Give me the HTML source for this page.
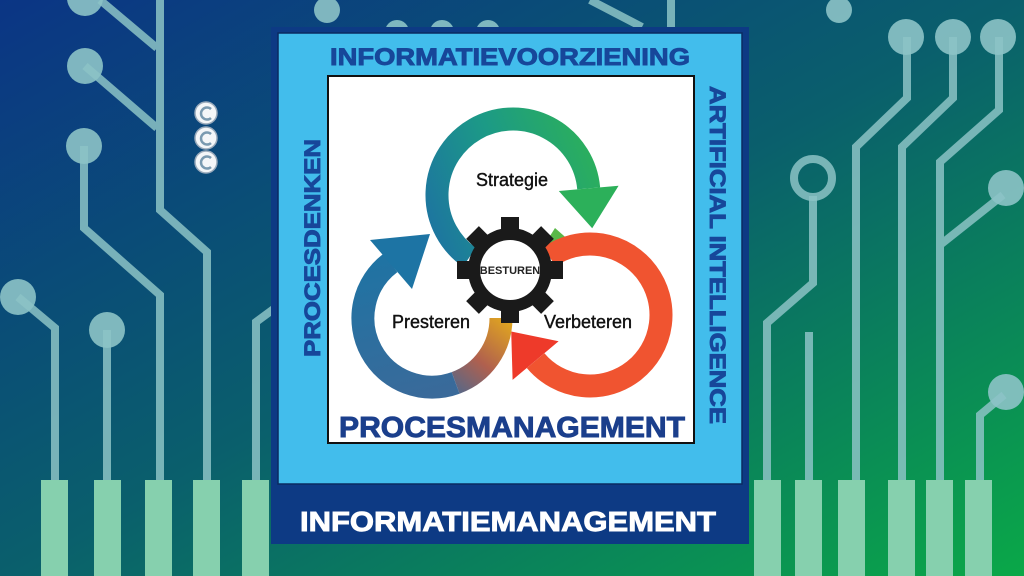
<!DOCTYPE html>
<html><head><meta charset="utf-8"><style>
html,body{margin:0;padding:0;}
body{width:1024px;height:576px;overflow:hidden;position:relative;font-family:"Liberation Sans",sans-serif;
background:linear-gradient(to bottom right,#0b3585 0%,#0a5f6c 50%,#0aa848 100%);}
svg{position:absolute;left:0;top:0;}
</style></head><body>
<svg width="1024" height="576" viewBox="0 0 1024 576">
<defs>
<linearGradient id="gG" gradientUnits="userSpaceOnUse" x1="430" y1="250" x2="610" y2="180">
<stop offset="0" stop-color="#1d72a2"/><stop offset="0.5" stop-color="#1c9a86"/><stop offset="1" stop-color="#2cb05a"/></linearGradient>
<linearGradient id="gB" gradientUnits="userSpaceOnUse" x1="505" y1="315" x2="440" y2="395">
<stop offset="0" stop-color="#e2a81e"/><stop offset="0.5" stop-color="#b0604e"/><stop offset="1" stop-color="#3a6a9a"/></linearGradient>
<linearGradient id="gB2" gradientUnits="userSpaceOnUse" x1="440" y1="395" x2="400" y2="240">
<stop offset="0" stop-color="#3a6a9a"/><stop offset="1" stop-color="#1d74a4"/></linearGradient>
</defs>
<g stroke="#8cc3c6" stroke-opacity="0.85" stroke-width="8" fill="none">
<path d="M100 0 L157 48 M160 0 L160 210 L207 252 L207 490 M85 66 L157 128"/>
<path d="M84 146 L84 228 L160 295 L160 490"/>
<path d="M18 297 L55 328 L55 490"/>
<path d="M107 330 L107 490"/>
<path d="M275 308 L256 322 L256 490"/>
<path d="M590 0 L642 27 M671 0 L671 27"/>
<path d="M907 37 L907 98 L856 147 L856 490"/>
<path d="M953 37 L953 98 L902 147 L902 490"/>
<path d="M999 37 L999 110 L940 162 L940 490 M940 245 L1003 195"/>
<path d="M813 196 L813 283 L767 323 L767 490"/>
<path d="M809 332 L809 490"/>
<path d="M1004 395 L980 415 L980 490"/>
<circle cx="813" cy="178" r="19"/>
</g>
<g fill="#8cc3c6" fill-opacity="0.9">
<circle cx="85" cy="-2" r="18"/><circle cx="85" cy="66" r="18"/><circle cx="84" cy="146" r="18"/>
<circle cx="18" cy="297" r="18"/><circle cx="107" cy="330" r="18"/>
<circle cx="327" cy="10" r="13"/><circle cx="397" cy="32" r="12"/><circle cx="442" cy="32" r="12"/><circle cx="488" cy="32" r="12"/>
<circle cx="839" cy="10" r="13"/><circle cx="906" cy="37" r="18"/><circle cx="953" cy="37" r="18"/><circle cx="998" cy="37" r="18"/>
<circle cx="1006" cy="188" r="18"/><circle cx="1006" cy="392" r="18"/>
</g>
<g fill="#86d0ae">
<rect x="41" y="480" width="27" height="96"/><rect x="94" y="480" width="27" height="96"/><rect x="145" y="480" width="27" height="96"/>
<rect x="193" y="480" width="27" height="96"/><rect x="242" y="480" width="27" height="96"/>
<rect x="754" y="480" width="27" height="96"/><rect x="795" y="480" width="27" height="96"/><rect x="838" y="480" width="27" height="96"/>
<rect x="888" y="480" width="27" height="96"/><rect x="926" y="480" width="27" height="96"/><rect x="965" y="480" width="27" height="96"/>
</g>
<g fill="#f4f6f8" stroke="#9ab" stroke-width="1.5">
<circle cx="206" cy="113" r="11"/><circle cx="206" cy="138" r="11"/><circle cx="206" cy="162" r="11"/>
</g>
<g fill="none" stroke="#7a9ab0" stroke-width="2.5">
<path d="M211 109 A6 6 0 1 0 211 118"/><path d="M211 134 A6 6 0 1 0 211 143"/><path d="M211 158 A6 6 0 1 0 211 167"/>
</g>
<rect x="271" y="27" width="478" height="517" fill="#0d3a84"/>
<rect x="278" y="33" width="464" height="451" fill="#42bdec" stroke="#0b2a60" stroke-width="1.5"/>
<rect x="328" y="76" width="366" height="367" fill="#fff" stroke="#111" stroke-width="2"/>
<path d="M469.4 257.3 A76 76 0 1 1 588.7 188.4" fill="none" stroke="url(#gG)" stroke-width="23"/>
<polygon points="618.6,185.8 558.8,191 592.2,228.2" fill="#2cb05a"/>
<polygon points="555,228 572,243 560,258 545,244" fill="#5ab848"/>
<path d="M549.3 256.8 A71 71 0 1 1 535.6 360.6" fill="none" stroke="#f05430" stroke-width="23"/>
<polygon points="512.6,379.9 558.6,341.3 511.2,331.5" fill="#ee3a2a"/>
<path d="M501 318 A69 69 0 0 1 455.6 382.9" fill="none" stroke="url(#gB)" stroke-width="23"/>
<path d="M455.6 382.9 A69 69 0 0 1 390.5 262.9" fill="none" stroke="url(#gB2)" stroke-width="23"/>
<polygon points="370,240 412,289 430,234" fill="#1d74a4"/>
<g transform="translate(510,270)" fill="#1a1a1a">
<circle r="42"/>
<g id="t"><rect x="-9" y="-53" width="18" height="16"/></g>
<use href="#t" transform="rotate(45)"/><use href="#t" transform="rotate(90)"/><use href="#t" transform="rotate(135)"/>
<use href="#t" transform="rotate(180)"/><use href="#t" transform="rotate(225)"/><use href="#t" transform="rotate(270)"/><use href="#t" transform="rotate(315)"/>
<circle r="30" fill="#fff"/>
<text x="0" y="4" text-anchor="middle" font-size="11" font-weight="bold" fill="#222" font-family="Liberation Sans, sans-serif">BESTUREN</text>
</g>
<g font-family="Liberation Sans, sans-serif" fill="#111" font-size="18" stroke="#111" stroke-width="0.4">
<text x="512" y="186" text-anchor="middle">Strategie</text>
<text x="431" y="328" text-anchor="middle">Presteren</text>
<text x="588" y="328" text-anchor="middle">Verbeteren</text>
</g>
<g font-family="Liberation Sans, sans-serif" font-weight="bold" stroke-width="0.9">
<text x="510" y="65" text-anchor="middle" font-size="24" fill="#17479a" stroke="#17479a" textLength="360" lengthAdjust="spacingAndGlyphs">INFORMATIEVOORZIENING</text>
<text x="512" y="437" text-anchor="middle" font-size="29" fill="#1b3f8c" stroke="#1b3f8c" textLength="346" lengthAdjust="spacingAndGlyphs">PROCESMANAGEMENT</text>
<text x="508" y="531" text-anchor="middle" font-size="28" fill="#fff" stroke="#fff" textLength="416" lengthAdjust="spacingAndGlyphs">INFORMATIEMANAGEMENT</text>
<text transform="translate(320,248) rotate(-90)" text-anchor="middle" font-size="22" fill="#17479a" stroke="#17479a" textLength="218" lengthAdjust="spacingAndGlyphs">PROCESDENKEN</text>
<text transform="translate(710,255) rotate(90)" text-anchor="middle" font-size="22" fill="#17479a" stroke="#17479a" textLength="338" lengthAdjust="spacingAndGlyphs">ARTIFICIAL INTELLIGENCE</text>
</g>
</svg>
</body></html>
